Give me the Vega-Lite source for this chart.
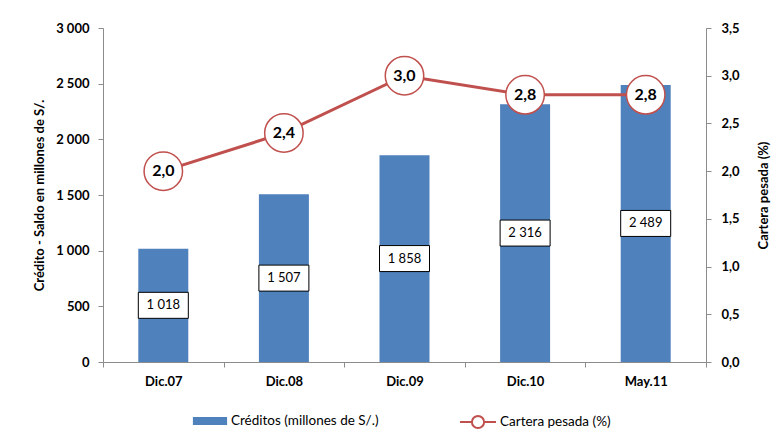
{
  "$schema": "https://vega.github.io/schema/vega-lite/v6.json",
  "width": 603,
  "height": 334,
  "autosize": {"type": "none"},
  "padding": {"left": 103, "top": 28, "right": 68, "bottom": 78},
  "background": "white",
  "config": {
    "locale": {"number": {"decimal": ",", "thousands": " ", "grouping": [3], "currency": ["", ""]}},
    "font": "Lato",
    "view": {"stroke": null},
    "axis": {
      "domainColor": "#8c8c8c", "tickColor": "#8c8c8c", "grid": false,
      "labelFont": "Lato", "labelFontSize": 13, "labelFontWeight": "bold", "labelColor": "#000",
      "titleFont": "Lato", "titleFontSize": 13, "titleFontWeight": "bold", "titleColor": "#000",
      "tickSize": 5
    },
    "legend": {"labelFont": "Lato", "labelFontSize": 13.5, "labelColor": "#000", "labelLimit": 300, "padding": 0, "labelOffset": 3}
  },
  "data": {"values": [
    {"periodo": "Dic.07", "creditos": 1018, "cartera": 2.0},
    {"periodo": "Dic.08", "creditos": 1507, "cartera": 2.4},
    {"periodo": "Dic.09", "creditos": 1858, "cartera": 3.0},
    {"periodo": "Dic.10", "creditos": 2316, "cartera": 2.8},
    {"periodo": "May.11", "creditos": 2489, "cartera": 2.8}
  ]},
  "encoding": {
    "x": {"field": "periodo", "type": "nominal", "sort": null,
      "scale": {"paddingInner": 0, "paddingOuter": 0},
      "axis": {"title": null, "labelAngle": 0, "tickBand": "extent", "labelPadding": 8}}
  },
  "layer": [
    {
      "mark": {"type": "bar", "size": 50},
      "encoding": {
        "y": {"field": "creditos", "type": "quantitative", "scale": {"domain": [0, 3000]},
          "axis": {"values": [0, 500, 1000, 1500, 2000, 2500, 3000], "format": ",d",
            "title": "Crédito - Saldo en millones de S/.", "labelPadding": 9, "titlePadding": 9}},
        "color": {"datum": "Créditos (millones de S/.)", "type": "nominal",
          "scale": {"range": ["#4F81BD"]},
          "legend": {"orient": "none", "legendX": 89, "legendY": 375, "title": null,
            "symbolType": "M-0.95,-0.22H0.95V0.22H-0.95Z", "symbolSize": 1296, "symbolStrokeWidth": 0}}
      }
    },
    {
      "mark": {"type": "point", "shape": "M-1,-0.52H1V0.52H-1Z", "size": 2500, "filled": true,
        "fill": "white", "stroke": "black", "strokeWidth": 1, "opacity": 1},
      "encoding": {
        "y": {"field": "creditos", "type": "quantitative", "scale": {"domain": [0, 6000]}, "axis": null}
      }
    },
    {
      "mark": {"type": "text", "fontSize": 13, "font": "Lato", "color": "black"},
      "encoding": {
        "y": {"field": "creditos", "type": "quantitative", "scale": {"domain": [0, 6000]}, "axis": null},
        "text": {"field": "creditos", "type": "quantitative", "format": ",d"}
      }
    },
    {
      "mark": {"type": "line", "strokeWidth": 3},
      "encoding": {
        "y": {"field": "cartera", "type": "quantitative", "scale": {"domain": [0, 3.5]},
          "axis": {"orient": "right", "values": [0, 0.5, 1, 1.5, 2, 2.5, 3, 3.5], "format": ".1f",
            "title": "Cartera pesada (%)", "titleAngle": 270, "labelPadding": 10, "titlePadding": 31}},
        "stroke": {"datum": "Cartera pesada (%)", "type": "nominal",
          "scale": {"range": ["#C0504D"]},
          "legend": {"orient": "none", "legendX": 356, "legendY": 375, "title": null,
            "symbolType": "M-1,0H-0.34A0.34,0.34 0 1,1 0.34,0A0.34,0.34 0 1,1 -0.34,0M0.34,0H1",
            "symbolSize": 1296, "symbolStrokeWidth": 2, "symbolFillColor": "white"}}
      }
    },
    {
      "mark": {"type": "point", "shape": "circle", "size": 1480, "filled": true, "fill": "white",
        "stroke": "#C0504D", "strokeWidth": 1.5, "opacity": 1},
      "encoding": {
        "y": {"field": "cartera", "type": "quantitative", "scale": {"domain": [0, 3.5]}, "axis": null}
      }
    },
    {
      "mark": {"type": "text", "fontSize": 16, "font": "Lato", "fontWeight": "bold", "color": "black"},
      "encoding": {
        "y": {"field": "cartera", "type": "quantitative", "scale": {"domain": [0, 3.5]}, "axis": null},
        "text": {"field": "cartera", "type": "quantitative", "format": ".1f"}
      }
    }
  ],
  "resolve": {"scale": {"y": "independent"}}
}
